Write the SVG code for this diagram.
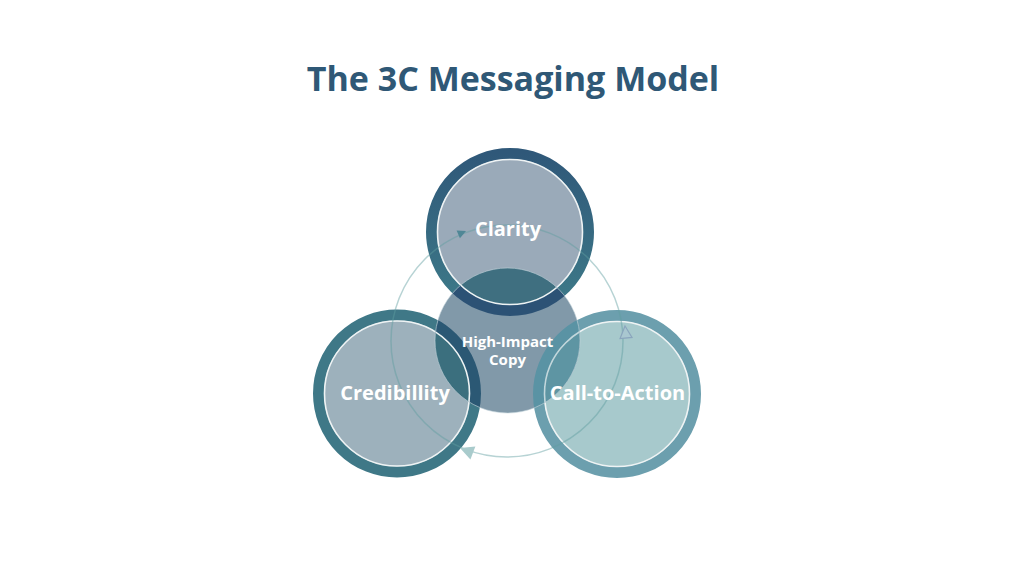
<svg xmlns="http://www.w3.org/2000/svg" width="1024" height="585" viewBox="0 0 1024 585">
  <defs>
    <style>
      .title { font-family: "Open Sans", "Liberation Sans", sans-serif; font-weight: 700; font-size: 34px; fill: #2f5876; }
      .lbl { font-family: "Open Sans", "Liberation Sans", sans-serif; font-weight: 700; font-size: 20px; fill: #ffffff; }
      .lbl-s { font-family: "Open Sans", "Liberation Sans", sans-serif; font-weight: 700; font-size: 15px; fill: #ffffff; }
      .inner { fill: none; stroke: #eef3f4; stroke-width: 1.6; }
      .arc { fill: none; stroke: #5f9ea0; stroke-opacity: 0.45; stroke-width: 1.5; }
    </style>
    <linearGradient id="gClarity" x1="0" y1="0" x2="0" y2="1">
      <stop offset="0" stop-color="#2f5879"/>
      <stop offset="1" stop-color="#3e7b89"/>
    </linearGradient>
    <clipPath id="clipCenter">
      <circle cx="507.5" cy="340.5" r="72.5"/>
    </clipPath>
    <path id="tri" d="M 0 0 L -12 -6 L -12 6 Z"/>
  </defs>

  <rect width="1024" height="585" fill="#ffffff"/>

  <text class="title" x="513" y="91" text-anchor="middle">The 3C Messaging Model</text>

  <g id="node-clarity">
    <circle cx="510" cy="232" r="78.5" fill="#9aaab9" stroke="url(#gClarity)" stroke-width="11"/>
    <circle class="inner" cx="510" cy="232" r="72.5"/>
  </g>

  <g id="node-credibility">
    <circle cx="397" cy="393.5" r="78.5" fill="#9db1bc" stroke="#3f7887" stroke-width="11"/>
    <circle class="inner" cx="397" cy="393.5" r="72.5"/>
  </g>

  <g id="node-cta">
    <circle cx="617" cy="394" r="78.5" fill="#a7c9cc" stroke="#6c9fae" stroke-width="11"/>
    <circle class="inner" cx="617" cy="394" r="72.5"/>
  </g>

  <g id="node-center">
    <circle cx="507.5" cy="340.5" r="72.5" fill="#8199a9"/>
    <g clip-path="url(#clipCenter)">
      <circle cx="510" cy="232" r="78.5" fill="#3f6f80" stroke="#2c5275" stroke-width="11"/>
      <circle class="inner" cx="510" cy="232" r="72.5"/>
      <circle cx="397" cy="393.5" r="78.5" fill="#3b6f7e" stroke="#2b5874" stroke-width="11"/>
      <circle class="inner" cx="397" cy="393.5" r="72.5"/>
      <circle cx="617" cy="394" r="78.5" fill="#5e95a3" stroke="#5a93a4" stroke-width="11"/>
      <circle class="inner" cx="617" cy="394" r="72.5" stroke-opacity="0.7"/>
    </g>
    <circle cx="507.5" cy="340.5" r="72.5" fill="none" stroke="#c4d6dc" stroke-opacity="0.6" stroke-width="1"/>
  </g>

  <g id="connectors">
    <circle class="arc" cx="507" cy="341" r="116"/>
    <use href="#tri" transform="translate(466,231) rotate(-23) scale(0.7)" fill="#4f8796"/>
    <use href="#tri" transform="translate(625,326) rotate(-95)" fill="#a9c7d0" stroke="#8aa5bd" stroke-width="1.2"/>
    <use href="#tri" transform="translate(460,448) rotate(201) scale(1.15)" fill="#a9cbcc"/>
  </g>

  <g id="labels">
    <text class="lbl" x="508" y="236" text-anchor="middle">Clarity</text>
    <text class="lbl-s" x="507.5" y="347" text-anchor="middle">High-Impact</text>
    <text class="lbl-s" x="507.5" y="365" text-anchor="middle">Copy</text>
    <text class="lbl" x="395" y="400" text-anchor="middle">Credibillity</text>
    <text class="lbl" x="617.5" y="400" text-anchor="middle">Call-to-Action</text>
  </g>
</svg>
